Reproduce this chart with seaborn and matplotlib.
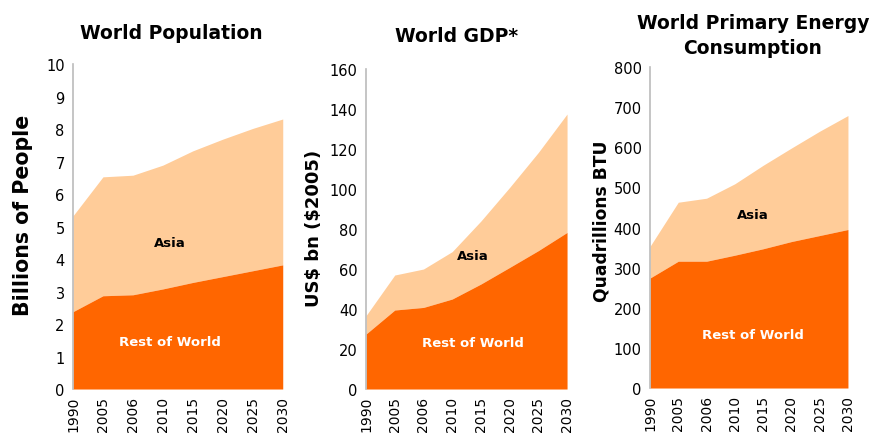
import matplotlib
matplotlib.use("Agg")
import matplotlib.pyplot as plt
import seaborn as sns
import pandas as pd

years = ["1990", "2005", "2006", "2010", "2015", "2020", "2025", "2030"]

# World population, billions
pop_rest = [2.38, 2.87, 2.90, 3.08, 3.28, 3.46, 3.64, 3.82]
pop_total = [5.33, 6.53, 6.58, 6.89, 7.33, 7.69, 8.02, 8.31]

# World GDP, US$ bn ($2005)
gdp_rest = [27.5, 39.5, 40.8, 45.0, 52.5, 60.8, 69.2, 78.3]
gdp_total = [36.7, 57.0, 60.0, 68.7, 84.0, 100.8, 118.3, 137.5]

# World primary energy consumption, quadrillion BTU
nrg_rest = [274, 316, 316, 331, 347, 365, 380, 395]
nrg_total = [353, 463, 473, 509, 555, 598, 640, 679]

DARK = "#FF6600"
LIGHT = "#FFCC99"

sns.set_theme(style="white")
plt.rcParams["font.family"] = ["DejaVu Sans"]
plt.rcParams["text.color"] = "black"
plt.rcParams["axes.labelcolor"] = "black"
plt.rcParams["xtick.color"] = "black"
plt.rcParams["ytick.color"] = "black"

fig = plt.figure(figsize=(8.74, 4.35), dpi=100)

panels = [
    dict(rest=pop_rest, total=pop_total, ymax=10, step=1,
         title="World Population", ylabel="Billions of People", ylsize=14.8,
         rect=[0.0835, 0.1034, 0.240, 0.747],
         asia=(3.23, 4.52), row=(3.23, 1.45),
         title_xy=(0.471, 1.098), ylab_xy=(-0.19, 0.538)),
    dict(rest=gdp_rest, total=gdp_total, ymax=160, step=20,
         title="World GDP*", ylabel=r"US\$ bn (\$2005)", ylsize=13,
         rect=[0.4188, 0.1034, 0.230, 0.7356],
         asia=(3.73, 67), row=(3.73, 23.5),
         title_xy=(0.45, 1.106), ylab_xy=(-0.215, 0.506)),
    dict(rest=nrg_rest, total=nrg_total, ymax=800, step=100,
         title="World Primary Energy\nConsumption", ylabel="Quadrillions BTU", ylsize=12.3,
         rect=[0.7437, 0.1057, 0.2265, 0.738],
         asia=(3.64, 433), row=(3.64, 134),
         title_xy=(0.52, 1.100), ylab_xy=(-0.2, 0.523)),
]

for p in panels:
    ax = fig.add_axes(p["rect"])
    df = pd.DataFrame({"idx": range(len(years)), "rest": p["rest"], "total": p["total"]})
    sns.lineplot(data=df, x="idx", y="total", ax=ax, color=LIGHT, lw=0)
    ax.fill_between(df["idx"], df["rest"], df["total"], color=LIGHT, lw=0)
    ax.fill_between(df["idx"], 0, df["rest"], color=DARK, lw=0)

    ax.set_xlim(0, len(years) - 1)
    ax.set_ylim(0, p["ymax"])
    ax.set_xticks(range(len(years)))
    ax.set_xticklabels(years, rotation=90, fontsize=10)
    ax.set_yticks(range(0, p["ymax"] + 1, p["step"]))
    ax.tick_params(axis="y", labelsize=10.5, length=0, pad=6)
    ax.tick_params(axis="x", length=0, pad=5)
    ax.set_xlabel("")
    ax.set_ylabel(p["ylabel"], fontsize=p["ylsize"], fontweight="bold")
    ax.yaxis.set_label_coords(*p["ylab_xy"])

    for side in ("top", "right", "bottom"):
        ax.spines[side].set_visible(False)
    ax.spines["left"].set_color("#BBBBBB")
    ax.spines["left"].set_linewidth(1.2)

    ax.text(*p["title_xy"], p["title"], transform=ax.transAxes, ha="center",
            va="center", fontsize=13.5, fontweight="bold", linespacing=1.35)
    ax.text(*p["asia"], "Asia", ha="center", va="center", fontsize=9.5,
            fontweight="bold", color="black")
    ax.text(*p["row"], "Rest of World", ha="center", va="center", fontsize=9.5,
            fontweight="bold", color="white")

fig.savefig("out.png", dpi=100)
